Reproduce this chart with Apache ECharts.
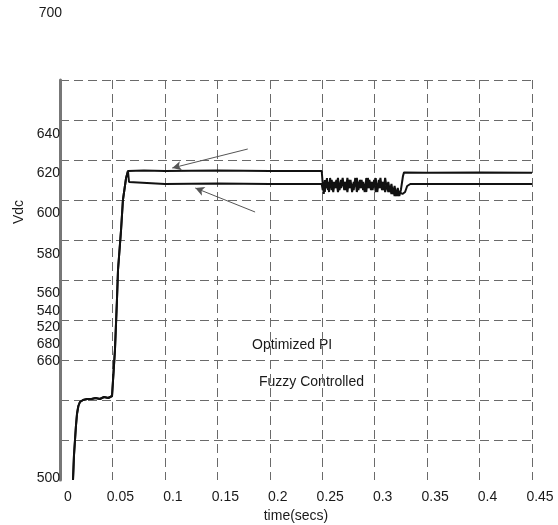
<!DOCTYPE html>
<html>
<head>
<meta charset="utf-8">
<script src="https://cdn.jsdelivr.net/npm/echarts@6/dist/echarts.min.js"></script>
<style>
html,body{margin:0;padding:0;background:#fff;}
#c{width:558px;height:525px;}
</style>
</head>
<body>
<div id="c"></div>
<script>
// ---- data ----
const seriesNames = ['Optimized PI', 'Fuzzy Controlled'];
const xTicks = [0, 0.05, 0.1, 0.15, 0.2, 0.25, 0.3, 0.35, 0.4, 0.45];
const yTickLabels = ['640', '620', '600', '580', '560', '540', '520', '680', '660', '500'];
const yTickAt = [673, 653.5, 633.5, 613, 593.5, 584.5, 576.5, 568, 559.5, 501];
const yTopLabel = '700';

// common start-up transient
const riseT = [0.0124, 0.0133, 0.0143, 0.0152, 0.0162, 0.0175, 0.019, 0.022, 0.026, 0.030, 0.034, 0.038, 0.042, 0.046, 0.0496, 0.0505, 0.0524, 0.0543, 0.0553, 0.0582, 0.060, 0.063, 0.0648];
const riseV = [500, 512, 520, 527, 533, 537, 539, 540, 540.5, 540.5, 541, 540.5, 541.5, 541, 542, 543, 565, 590, 605, 625, 640, 651, 654.5];

// upper trace
const piT = [0.08, 0.10, 0.15, 0.20, 0.2495];
const piV = [654.8, 654.5, 654.7, 654.5, 654.5];
// lower trace
const fzT = [0.0658, 0.0667, 0.10, 0.15, 0.20, 0.2495];
const fzV = [649, 648, 648, 648.2, 648, 648];

// disturbance band (0.25 - 0.325 s)
const bandT = [0.2505,0.2515,0.2525,0.2535,0.2545,0.2555,0.2565,0.2575,0.2590,0.2605,0.2620,0.2635,0.2650,0.2665,0.2680,0.2695,0.2710,0.2725,0.2740,0.2755,0.2770,0.2785,0.2800,0.2815,0.2830,0.2845,0.2860,0.2875,0.2890,0.2905,0.2920,0.2935,0.2950,0.2965,0.2980,0.2995,0.3010,0.3025,0.3040,0.3055,0.3070,0.3085,0.3100,0.3115,0.3130,0.3145,0.3160,0.3175,0.3190,0.3205,0.3220,0.3235,0.3250];
const piBandV = [648,643,650,646,651,645,649,647,650,644,649,646,651,645,650,647,649,645,651,646,650,644,649,647,651,645,650,646,649,644,651,646,650,645,649,647,651,644,650,646,649,645,651,646,649,644,648,643,647,642,646,642,645];
const fzBandV = [645,649,644,650,646,648,644,651,645,649,646,650,644,648,646,651,645,649,644,650,646,648,645,651,644,649,646,650,645,648,644,651,646,649,645,650,644,648,646,651,645,649,644,648,644,647,643,646,642,645,642,644,643];

// recovery
const piEndT = [0.3260, 0.3270, 0.3280, 0.35, 0.40, 0.45];
const piEndV = [644, 652, 653.8, 653.6, 653.8, 653.6];
const fzEndT = [0.3265, 0.329, 0.331, 0.334, 0.40, 0.45];
const fzEndV = [643, 644, 647, 648, 648, 648];

function zip(t, v) { return t.map((x, i) => [x, v[i]]); }
const piData = zip(riseT, riseV).concat(zip(piT, piV), zip(bandT, piBandV), zip(piEndT, piEndV));
const fzData = zip(riseT, riseV).concat(zip(fzT, fzV), zip(bandT, fzBandV), zip(fzEndT, fzEndV));

const FONT = 'Liberation Sans, Arial, sans-serif';
const TXT = '#1a1a1a';

const chart = echarts.init(document.getElementById('c'));
const gridStyle = { color: '#6a6a6a', width: 1, type: [9, 5] };

chart.setOption({
  animation: false,
  backgroundColor: '#fff',
  grid: { left: 60, right: 26, top: 80, bottom: 45, containLabel: false, outerBoundsMode: 'none' },
  xAxis: {
    type: 'value', min: 0, max: 0.45, interval: 0.05,
    name: 'time(secs)', nameLocation: 'middle', nameGap: 27,
    nameTextStyle: { color: TXT, fontSize: 14, fontFamily: FONT },
    axisLine: { show: false },
    axisTick: { show: false },
    axisLabel: {
      color: TXT, fontSize: 14, fontFamily: FONT, margin: 10,
      padding: [0, 0, 0, 16],
      formatter: v => { const i = xTicks.findIndex(a => Math.abs(a - v) < 1e-6); return i >= 0 ? String(xTicks[i]) : ''; }
    },
    splitLine: { show: true, showMinLine: false, lineStyle: gridStyle }
  },
  yAxis: [{
    type: 'value', min: 500, max: 700, interval: 20,
    axisLine: { show: true, lineStyle: { color: '#777', width: 3 } },
    axisTick: { show: false },
    axisLabel: { show: false },
    splitLine: { show: true, showMinLine: false, lineStyle: gridStyle }
  }, {
    type: 'value', min: 500, max: 700, position: 'left',
    axisLine: { show: false },
    axisTick: { show: false },
    splitLine: { show: false },
    axisLabel: {
      show: true, color: TXT, fontSize: 14, fontFamily: FONT, margin: 0,
      customValues: yTickAt,
      formatter: v => { const i = yTickAt.findIndex(a => Math.abs(a - v) < 0.01); return i >= 0 ? yTickLabels[i] : ''; }
    }
  }],
  graphic: [
    { type: 'text', x: 62, y: 13, style: { text: yTopLabel, fill: TXT, font: '14px ' + FONT, textAlign: 'right', textVerticalAlign: 'middle' } },
    { type: 'text', x: 19, y: 212, rotation: Math.PI / 2, style: { text: 'Vdc', fill: TXT, font: '14px ' + FONT, textAlign: 'center', textVerticalAlign: 'middle' } },
    { type: 'text', x: 252, y: 345, style: { text: seriesNames[0], fill: TXT, font: '14px ' + FONT, textAlign: 'left', textVerticalAlign: 'middle' } },
    { type: 'text', x: 259, y: 382, style: { text: seriesNames[1], fill: TXT, font: '14px ' + FONT, textAlign: 'left', textVerticalAlign: 'middle' } }
  ],
  series: [{
    name: seriesNames[0], type: 'line', data: piData, showSymbol: false, symbol: 'none',
    lineStyle: { color: '#111', width: 2 },
    markLine: {
      silent: true, symbol: ['none', 'arrow'], symbolSize: [7, 9],
      label: { show: false },
      lineStyle: { color: '#555', width: 1, type: 'solid' },
      data: [
        [{ coord: [0.179, 665.5] }, { coord: [0.107, 656] }],
        [{ coord: [0.186, 634] }, { coord: [0.129, 646] }]
      ]
    }
  }, {
    name: seriesNames[1], type: 'line', data: fzData, showSymbol: false, symbol: 'none',
    lineStyle: { color: '#111', width: 2 }
  }]
});
</script>
</body>
</html>
